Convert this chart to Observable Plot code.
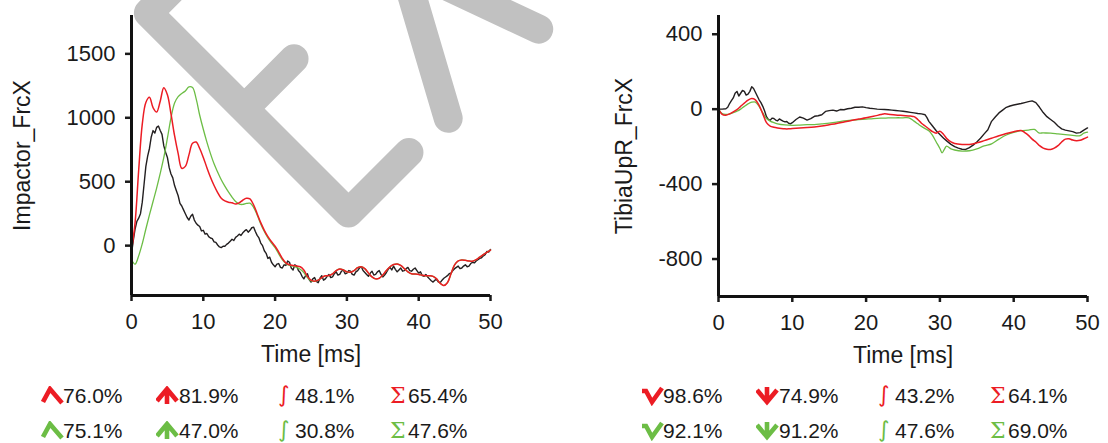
<!DOCTYPE html>
<html>
<head>
<meta charset="utf-8">
<script src="https://cdn.jsdelivr.net/npm/d3@7"></script>
<script src="https://cdn.jsdelivr.net/npm/@observablehq/plot@0.6"></script>
<style>
  html, body { margin: 0; padding: 0; background: #fff; }
  #root { position: relative; width: 1108px; height: 443px; overflow: hidden; background: #fff; font-family: "Liberation Sans", Arial, sans-serif; }
  #wm { position: absolute; left: 0; top: 0; z-index: 0; }
  .chart { position: absolute; top: 0; z-index: 1; }
  .leg { position: absolute; z-index: 2; font-size: 21px; line-height: 21px; color: #1a1a1a; white-space: nowrap; }
  .ico { position: absolute; z-index: 2; }
  .sym { position: absolute; z-index: 2; line-height: 21px; white-space: nowrap; }
</style>
</head>
<body>
<div id="root">
  <svg id="wm" width="1108" height="443">
    <g transform="translate(348.5,233.5) rotate(-45)" fill="none" stroke="#c1c1c1" stroke-width="29" stroke-linecap="round" stroke-linejoin="round">
      <path d="M100,-297.5 L14.5,-297.5 L14.5,-14.5 L100,-14.5 M14.5,-162 L85,-162 M152,-11 L308,-298 M279,-10 L175,-298"></path>
    </g>
  </svg>
</div>
<script>
// ---------------- data ----------------
const xTicks = [0, 10, 20, 30, 40, 50];
const leftYTicks = [0, 500, 1000, 1500];
const rightYTicks = [-800, -400, 0, 400];
const leftYLabel = "Impactor_FrcX";
const rightYLabel = "TibiaUpR_FrcX";
const xLabel = "Time [ms]";

// Impactor_FrcX  [t (ms), force]
const leftBlack = [[0,-65],[0.25,40],[0.5,130],[0.75,190],[1,215],[1.25,250],[1.5,340],[1.75,480],[2,620],[2.25,700],[2.5,760],[2.75,850],[3,900],[3.25,880],[3.5,925],[3.75,935],[4,900],[4.25,870],[4.5,780],[4.75,730],[5,690],[5.25,610],[5.5,560],[5.75,530],[6,470],[6.25,430],[6.5,390],[6.75,330],[7,310],[7.25,280],[7.5,250],[7.75,220],[8,200],[8.25,230],[8.5,245],[8.75,200],[9,175],[9.25,160],[9.5,150],[9.75,115],[10,120],[10.25,90],[10.5,95],[10.75,70],[11,60],[11.25,55],[11.5,30],[11.75,25],[12,5],[12.25,-10],[12.5,-15],[12.75,-5],[13,-5],[13.25,10],[13.5,20],[13.75,35],[14,50],[14.25,40],[14.5,65],[14.75,75],[15,90],[15.25,80],[15.5,100],[15.75,115],[16,125],[16.25,105],[16.5,120],[16.75,140],[17,145],[17.25,110],[17.5,80],[17.75,60],[18,20],[18.25,0],[18.5,-40],[18.75,-60],[19,-100],[19.25,-90],[19.5,-130],[19.75,-150],[20,-165],[20.25,-145],[20.5,-140],[20.75,-170],[21,-175],[21.25,-150],[21.5,-155],[21.75,-120],[22,-130],[22.25,-175],[22.5,-190],[22.75,-150],[23,-160],[23.25,-195],[23.5,-210],[23.75,-240],[24,-260],[24.25,-235],[24.5,-220],[24.75,-265],[25,-285],[25.25,-260],[25.5,-250],[25.75,-280],[26,-290],[26.25,-255],[26.5,-235],[26.75,-270],[27,-260],[27.25,-240],[27.5,-225],[27.75,-250],[28,-245],[28.25,-220],[28.5,-205],[28.75,-230],[29,-225],[29.25,-200],[29.5,-190],[29.75,-220],[30,-215],[30.25,-195],[30.5,-200],[30.75,-225],[31,-230],[31.25,-205],[31.5,-195],[31.75,-175],[32,-165],[32.25,-195],[32.5,-210],[32.75,-225],[33,-240],[33.25,-215],[33.5,-200],[33.75,-230],[34,-225],[34.25,-205],[34.5,-195],[34.75,-225],[35,-245],[35.25,-230],[35.5,-210],[35.75,-185],[36,-170],[36.25,-190],[36.5,-160],[36.75,-185],[37,-205],[37.25,-190],[37.5,-175],[37.75,-200],[38,-195],[38.25,-180],[38.5,-170],[38.75,-195],[39,-200],[39.25,-185],[39.5,-175],[39.75,-195],[40,-215],[40.25,-205],[40.5,-235],[40.75,-240],[41,-225],[41.25,-245],[41.5,-260],[41.75,-275],[42,-285],[42.25,-270],[42.5,-265],[42.75,-285],[43,-290],[43.25,-270],[43.5,-255],[43.75,-245],[44,-235],[44.25,-220],[44.5,-215],[44.75,-195],[45,-180],[45.25,-170],[45.5,-160],[45.75,-180],[46,-175],[46.25,-160],[46.5,-150],[46.75,-165],[47,-160],[47.25,-140],[47.5,-130],[47.75,-135],[48,-120],[48.25,-110],[48.5,-100],[48.75,-95],[49,-80],[49.25,-70],[49.5,-45],[49.75,-50],[50,-30]];
const leftRed = [[0,-40],[0.5,180],[1,590],[1.5,950],[2,1120],[2.5,1160],[3,1080],[3.5,1045],[4,1130],[4.5,1235],[5,1180],[5.5,1030],[6,860],[6.5,720],[7,605],[7.5,620],[8,710],[8.5,800],[9,810],[9.5,760],[10,690],[10.5,610],[11,535],[11.5,470],[12,415],[12.5,370],[13,350],[13.5,340],[14,335],[14.5,325],[15,335],[15.5,355],[16,370],[16.5,365],[17,320],[17.5,250],[18,180],[18.5,120],[19,70],[19.5,30],[20,-5],[20.5,-50],[21,-100],[21.5,-135],[22,-150],[22.5,-155],[23,-160],[23.5,-165],[24,-190],[24.5,-240],[25,-270],[25.5,-278],[26,-270],[26.5,-250],[27,-236],[27.5,-234],[28,-220],[28.5,-195],[29,-182],[29.5,-190],[30,-205],[30.5,-208],[31,-195],[31.5,-172],[32,-165],[32.5,-180],[33,-215],[33.5,-245],[34,-260],[34.5,-255],[35,-230],[35.5,-195],[36,-165],[36.5,-148],[37,-143],[37.5,-155],[38,-180],[38.5,-205],[39,-220],[39.5,-222],[40,-225],[40.5,-232],[41,-236],[41.5,-236],[42,-240],[42.5,-260],[43,-295],[43.5,-312],[44,-290],[44.5,-220],[45,-150],[45.5,-120],[46,-112],[46.5,-115],[47,-120],[47.5,-122],[48,-110],[48.5,-90],[49,-70],[49.5,-52],[50,-35]];
const leftGreen = [[0,-110],[0.5,-145],[1,-80],[1.5,15],[2,130],[2.5,240],[3,345],[3.5,450],[4,565],[4.5,690],[5,840],[5.5,1000],[6,1115],[6.5,1165],[7,1190],[7.5,1210],[8,1242],[8.5,1237],[9,1150],[9.5,1020],[10,910],[10.5,810],[11,720],[11.5,640],[12,575],[12.5,515],[13,465],[13.5,420],[14,380],[14.5,345],[15,325],[15.5,322],[16,330],[16.5,332],[17,300],[17.5,240],[18,170],[18.5,110],[19,60],[19.5,20],[20,-15],[20.5,-65],[21,-110],[21.5,-140],[22,-155],[22.5,-160],[23,-170],[23.5,-185],[24,-210],[24.5,-250],[25,-275],[25.5,-278],[26,-270],[26.5,-250],[27,-236],[27.5,-234],[28,-220],[28.5,-195],[29,-182],[29.5,-190],[30,-205],[30.5,-208],[31,-195],[31.5,-172],[32,-165],[32.5,-180],[33,-215],[33.5,-245],[34,-260],[34.5,-255],[35,-230],[35.5,-195],[36,-165],[36.5,-148],[37,-143],[37.5,-155],[38,-180],[38.5,-205],[39,-220],[39.5,-222],[40,-225],[40.5,-232],[41,-236],[41.5,-236],[42,-240],[42.5,-260],[43,-295],[43.5,-312],[44,-290],[44.5,-220],[45,-150],[45.5,-120],[46,-112],[46.5,-115],[47,-120],[47.5,-122],[48,-110],[48.5,-90],[49,-70],[49.5,-52],[50,-35]];

// TibiaUpR_FrcX  [t (ms), force]
const rightBlack = [[0,0],[0.5,0],[1,2],[1.25,10],[1.5,30],[1.75,45],[2,60],[2.25,85],[2.5,95],[2.75,70],[3,85],[3.25,100],[3.5,95],[3.75,75],[4,80],[4.25,95],[4.5,120],[4.75,110],[5,90],[5.25,70],[5.5,50],[5.75,35],[6,15],[6.25,-10],[6.5,-40],[6.75,-55],[7,-60],[7.25,-48],[7.5,-50],[7.75,-58],[8,-62],[8.25,-52],[8.5,-58],[8.75,-64],[9,-68],[9.25,-66],[9.5,-75],[9.75,-78],[10,-72],[10.5,-55],[11,-42],[11.5,-48],[12,-58],[12.5,-50],[13,-38],[13.5,-35],[14,-30],[14.5,-12],[15,-8],[15.5,-5],[16,-10],[16.5,-2],[17,-3],[17.5,2],[18,5],[18.5,10],[19,10],[19.5,12],[20,8],[20.5,5],[21,3],[21.5,0],[22,-1],[22.5,-2],[23,-3],[23.5,-5],[24,-7],[24.5,-9],[25,-11],[25.5,-14],[26,-17],[26.5,-20],[27,-23],[27.5,-25],[28,-30],[28.25,-45],[28.5,-65],[29,-90],[29.5,-115],[30,-135],[30.5,-155],[31,-172],[31.5,-188],[32,-200],[32.5,-208],[33,-214],[33.5,-215],[34,-205],[34.5,-192],[35,-175],[35.5,-155],[36,-132],[36.5,-110],[37,-65],[37.5,-42],[38,-20],[38.5,-5],[39,10],[39.5,17],[40,22],[40.5,26],[41,30],[41.5,35],[42,40],[42.5,44],[43,35],[43.5,10],[44,-18],[44.5,-40],[45,-55],[45.5,-70],[46,-90],[46.5,-105],[47,-112],[47.5,-116],[48,-120],[48.5,-128],[49,-125],[49.5,-112],[50,-100]];
const rightRed = [[0,0],[0.5,-28],[1,-32],[1.5,-25],[2,-14],[2.5,-2],[3,15],[3.5,32],[4,48],[4.5,57],[5,50],[5.5,20],[6,-25],[6.5,-72],[7,-90],[7.5,-96],[8,-100],[8.5,-103],[9,-105],[9.5,-105],[10,-103],[11,-100],[12,-98],[13,-95],[14,-90],[15,-83],[16,-76],[17,-68],[18,-60],[19,-53],[20,-46],[21,-38],[22,-29],[22.5,-25],[23,-27],[24,-31],[25,-34],[26,-37],[26.5,-40],[27,-55],[27.5,-75],[28,-90],[28.5,-105],[29,-120],[29.5,-128],[30,-118],[30.5,-135],[31,-160],[31.5,-175],[32,-183],[33,-188],[34,-188],[35,-180],[36,-168],[37,-155],[38,-142],[39,-130],[40,-120],[41,-114],[41.5,-125],[42,-140],[42.5,-160],[43,-175],[43.5,-195],[44,-208],[44.5,-214],[45,-215],[45.5,-208],[46,-195],[46.5,-175],[47,-160],[47.5,-158],[48,-165],[48.5,-168],[49,-166],[49.5,-158],[50,-149]];
const rightGreen = [[0,0],[0.5,-24],[1,-28],[1.5,-26],[2,-18],[2.5,-11],[3,0],[3.5,15],[4,28],[4.5,37],[5,38],[5.5,15],[6,-20],[6.5,-50],[7,-64],[7.5,-72],[8,-78],[9,-84],[10,-86],[11,-85],[12,-83],[13,-82],[14,-78],[15,-74],[16,-69],[17,-63],[18,-59],[19,-56],[20,-53],[21,-50],[22,-48],[23,-47],[24,-46],[25,-46],[25.8,-46],[26.5,-64],[27,-78],[27.5,-92],[28,-104],[28.5,-115],[29,-140],[29.5,-175],[30,-210],[30.3,-233],[30.6,-215],[30.9,-197],[31.5,-212],[32,-218],[33,-224],[34,-222],[35,-212],[36,-196],[37,-185],[38,-160],[39,-138],[40,-124],[41,-115],[42,-112],[42.8,-108],[43.4,-126],[44,-127],[45,-128],[46,-132],[47,-136],[48,-140],[49,-141],[49.5,-128],[50,-123]];

// legend values (row 1 = red, row 2 = green)
const leftRedStats = ["76.0%", "81.9%", "48.1%", "65.4%"];
const leftGreenStats = ["75.1%", "47.0%", "30.8%", "47.6%"];
const rightRedStats = ["98.6%", "74.9%", "43.2%", "64.1%"];
const rightGreenStats = ["92.1%", "91.2%", "47.6%", "69.0%"];

// ---------------- styling ----------------
const RED = "#ec1c24", GREEN = "#6cbd45", BLACK = "#231f20";
const FONT = "'Liberation Sans', Arial, sans-serif";

function chart({yDomain, yTicks, yLabel, black, red, green, mLeft, mRight, mBottom, labelDx}) {
  const W = 554, H = 372;
  return Plot.plot({
    width: W, height: H,
    marginLeft: mLeft, marginRight: mRight, marginTop: 15, marginBottom: mBottom,
    style: {background: "transparent", fontFamily: FONT, fontSize: "22px", color: "#1a1a1a", overflow: "visible"},
    x: {domain: [0, 50]},
    y: {domain: yDomain},
    marks: [
      Plot.axisX({ticks: xTicks, tickSize: 6, tickPadding: 12, strokeWidth: 2.5, label: null, fontSize: 22, tickFormat: d => String(d)}),
      Plot.axisY({ticks: yTicks, tickSize: 6, tickPadding: 10, strokeWidth: 2.5, label: null, fontSize: 22, tickFormat: d => String(d)}),
      Plot.line(black, {x: d => d[0], y: d => d[1], stroke: BLACK, strokeWidth: 1.4}),
      Plot.line(green, {x: d => d[0], y: d => d[1], stroke: GREEN, strokeWidth: 1.3, curve: "catmull-rom"}),
      Plot.line(red, {x: d => d[0], y: d => d[1], stroke: RED, strokeWidth: 1.5, curve: "catmull-rom"}),
      Plot.ruleX([0], {stroke: "#111", strokeWidth: 3}),
      Plot.ruleY([yDomain[0]], {stroke: "#111", strokeWidth: 3}),
      Plot.text([xLabel], {frameAnchor: "bottom", lineAnchor: "top", dy: 50, fontSize: 23, fill: "#1a1a1a"}),
      Plot.text([yLabel], {frameAnchor: "left", rotate: -90, textAnchor: "middle", lineAnchor: "middle", dx: labelDx, fontSize: 23, fill: "#1a1a1a"})
    ]
  });
}

const root = document.getElementById("root");

const left = chart({yDomain: [-390, 1800], yTicks: leftYTicks, yLabel: leftYLabel, black: leftBlack, red: leftRed, green: leftGreen, mLeft: 131, mRight: 64, mBottom: 77, labelDx: -109});
left.classList.add("chart");
left.style.left = "0px";
root.appendChild(left);

const right = chart({yDomain: [-1000, 500], yTicks: rightYTicks, yLabel: rightYLabel, black: rightBlack, red: rightRed, green: rightGreen, mLeft: 164, mRight: 21, mBottom: 76, labelDx: -94});
right.classList.add("chart");
right.style.left = "554px";
root.appendChild(right);

// ---------------- legend ----------------
function icon(kind, color, x, y) {
  const ns = "http://www.w3.org/2000/svg";
  const s = document.createElementNS(ns, "svg");
  s.setAttribute("width", 24); s.setAttribute("height", 20);
  s.setAttribute("class", "ico");
  s.style.left = x + "px"; s.style.top = y + "px";
  const p = document.createElementNS(ns, "path");
  const d = {
    up1: "M2,16 L9,3 L21,17",
    up2: "M1,15 L11,3 L21,15 M11,3 L11,18",
    dn1: "M1,5 L5,5 L11,16 L21,2",
    dn2: "M1,4 L11,16 L21,4 M11,1 L11,16"
  }[kind];
  p.setAttribute("d", d);
  p.setAttribute("fill", "none");
  p.setAttribute("stroke", color);
  p.setAttribute("stroke-width", 4.6);
  p.setAttribute("stroke-linejoin", "miter");
  s.appendChild(p);
  root.appendChild(s);
}
function label(txt, x, top) {
  const el = document.createElement("div");
  el.className = "leg";
  el.textContent = txt;
  el.style.left = x + "px"; el.style.top = top + "px";
  root.appendChild(el);
}
function sym(ch, color, x, top, font, size) {
  const el = document.createElement("div");
  el.className = "sym";
  el.textContent = ch;
  el.style.left = x + "px"; el.style.top = top + "px";
  el.style.color = color; el.style.fontFamily = font; el.style.fontSize = size + "px";
  root.appendChild(el);
}

function legendBlock(x0, stats, color, rowTop, icons) {
  const xs = [x0, x0 + 116, x0 + 232, x0 + 345];
  icon(icons[0], color, xs[0] - 22, rowTop + 1);
  label(stats[0], xs[0], rowTop);
  icon(icons[1], color, xs[1] - 23, rowTop + 1);
  label(stats[1], xs[1], rowTop);
  sym("\u222B", color, xs[2] - 17, rowTop - 1, "'DejaVu Sans', sans-serif", 22);
  label(stats[2], xs[2], rowTop);
  sym("\u03A3", color, xs[3] - 18, rowTop, "'DejaVu Serif', serif", 22);
  label(stats[3], xs[3], rowTop);
}

legendBlock(63, leftRedStats, RED, 385, ["up1", "up2"]);
legendBlock(63, leftGreenStats, GREEN, 420, ["up1", "up2"]);
legendBlock(663, rightRedStats, RED, 385, ["dn1", "dn2"]);
legendBlock(663, rightGreenStats, GREEN, 420, ["dn1", "dn2"]);
</script>
</body>
</html>
